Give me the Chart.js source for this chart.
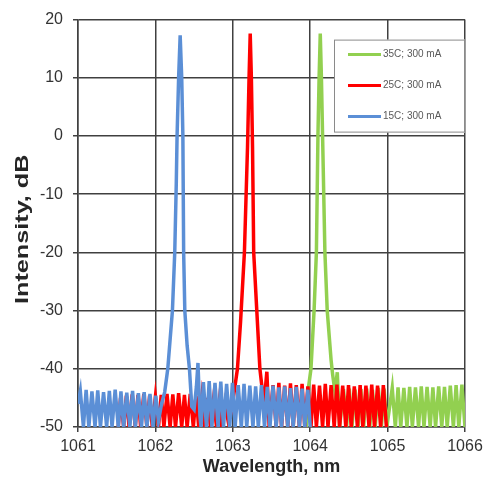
<!DOCTYPE html>
<html>
<head>
<meta charset="utf-8">
<script src="https://cdn.jsdelivr.net/npm/chart.js@4.4.1/dist/chart.umd.min.js"></script>
<style>
  html, body { margin: 0; padding: 0; background: #fff; }
</style>
</head>
<body>
<canvas id="spectrum" width="489" height="479"></canvas>
<script>
// legend text, in dataset order (15C is drawn on top)
const seriesLabels = ["15C; 300 mA", "25C; 300 mA", "35C; 300 mA"];
const xTicks = [1061, 1062, 1063, 1064, 1065, 1066];
const yTicks = [-50, -40, -30, -20, -10, 0, 10, 20];
const yTitle = "Intensity, dB";

// 15C, 300 mA
const wl15 = [
  1061.00, 1061.03, 1061.07, 1061.105, 1061.14, 1061.18, 1061.22, 1061.255, 1061.29, 1061.33,
  1061.37, 1061.405, 1061.44, 1061.48, 1061.52, 1061.555, 1061.59, 1061.63, 1061.67, 1061.705,
  1061.74, 1061.78, 1061.82, 1061.855, 1061.89, 1061.93, 1061.97, 1062.005, 1062.04, 1062.08,
  1062.12, 1062.16, 1062.19, 1062.22, 1062.25, 1062.27, 1062.28, 1062.30, 1062.32, 1062.34,
  1062.355, 1062.365, 1062.38, 1062.41, 1062.44, 1062.47, 1062.50, 1062.53, 1062.55, 1062.575,
  1062.59, 1062.62, 1062.66, 1062.695, 1062.73, 1062.77, 1062.81, 1062.845, 1062.88, 1062.92,
  1062.96, 1062.995, 1063.03, 1063.07, 1063.11, 1063.145, 1063.18, 1063.22, 1063.26, 1063.295,
  1063.33, 1063.37, 1063.41, 1063.445, 1063.48, 1063.52, 1063.56, 1063.595, 1063.63, 1063.67,
  1063.71, 1063.745, 1063.78, 1063.82, 1063.86, 1063.895, 1063.93, 1063.97, 1064.00
];
const db15 = [
  -46, -43.8, -50, -43.6, -50, -43.9, -50, -43.7, -50, -44.0,
  -50, -43.8, -50, -43.6, -50, -43.9, -50, -44.1, -50, -43.8,
  -50, -44.2, -50, -44.0, -50, -44.3, -50, -44.6, -49, -46,
  -44, -40, -35, -30, -20, -8, 0, 10, 17.3, 10,
  0, -20, -30, -36, -40, -46.5, -47, -43, -39, -48,
  -50, -42.3, -50, -42.1, -50, -42.4, -50, -42.2, -50, -42.6,
  -50, -42.4, -50, -42.8, -50, -42.6, -50, -42.9, -50, -43.0,
  -50, -42.8, -50, -43.1, -50, -42.9, -50, -43.2, -50, -43.0,
  -50, -43.3, -50, -43.1, -50, -43.4, -50, -43.6, -50
];

// 25C, 300 mA
const wl25 = [
  1061.52, 1061.55, 1061.59, 1061.625, 1061.66, 1061.70, 1061.74, 1061.775, 1061.81, 1061.85,
  1061.89, 1061.925, 1061.96, 1062.00, 1062.04, 1062.075, 1062.11, 1062.15, 1062.19, 1062.225,
  1062.26, 1062.30, 1062.34, 1062.375, 1062.41, 1062.45, 1062.49, 1062.525, 1062.56, 1062.60,
  1062.64, 1062.675, 1062.71, 1062.75, 1062.79, 1062.825, 1062.86, 1062.90, 1062.94, 1062.98,
  1063.01, 1063.06, 1063.10, 1063.15, 1063.19, 1063.21, 1063.225, 1063.24, 1063.255, 1063.27,
  1063.31, 1063.35, 1063.38, 1063.41, 1063.44, 1063.47, 1063.52, 1063.56, 1063.595, 1063.63,
  1063.67, 1063.71, 1063.745, 1063.78, 1063.82, 1063.86, 1063.895, 1063.93, 1063.97, 1064.01,
  1064.045, 1064.08, 1064.12, 1064.16, 1064.195, 1064.23, 1064.27, 1064.31, 1064.345, 1064.38,
  1064.42, 1064.46, 1064.495, 1064.53, 1064.57, 1064.61, 1064.645, 1064.68, 1064.72, 1064.76,
  1064.795, 1064.83, 1064.87, 1064.91, 1064.945, 1064.985
];
const db25 = [
  -50, -45.0, -50, -44.6, -50, -44.4, -50, -44.5, -50, -44.3,
  -50, -44.6, -50, -44.8, -50, -44.5, -50, -44.3, -50, -44.4,
  -50, -44.2, -50, -44.5, -50, -44.3, -50, -44.6, -50, -44.8,
  -50, -45.0, -50, -45.3, -50, -45.6, -50, -46.0, -49, -47.5,
  -44.7, -40, -32, -20, -2, 10, 17.6, 10, -2, -20,
  -30, -40, -43.5, -45, -40.5, -50, -42.8, -50, -42.4, -50,
  -42.9, -50, -42.5, -50, -42.8, -50, -42.6, -50, -43.0, -50,
  -42.7, -50, -42.9, -50, -42.6, -50, -42.8, -50, -42.7, -50,
  -42.9, -50, -42.8, -50, -43.0, -50, -42.8, -50, -42.9, -50,
  -42.7, -50, -42.9, -50, -42.8, -50
];

// 35C, 300 mA
const wl35 = [
  1063.95, 1063.98, 1064.01, 1064.05, 1064.08, 1064.10, 1064.115, 1064.13, 1064.145, 1064.16,
  1064.19, 1064.22, 1064.27, 1064.29, 1064.32, 1064.35, 1064.38, 1064.43, 1064.47, 1064.505,
  1064.54, 1064.58, 1064.62, 1064.655, 1064.69, 1064.73, 1064.77, 1064.805, 1064.84, 1064.88,
  1064.92, 1064.955, 1064.99, 1065.06, 1065.10, 1065.135, 1065.17, 1065.21, 1065.25, 1065.285,
  1065.32, 1065.36, 1065.40, 1065.435, 1065.47, 1065.51, 1065.55, 1065.585, 1065.62, 1065.66,
  1065.70, 1065.735, 1065.77, 1065.81, 1065.85, 1065.885, 1065.92, 1065.96, 1066.00
];
const db35 = [
  -50, -43, -40, -30, -20, 0, 10, 17.6, 10, 0,
  -20, -30, -38.5, -41, -44, -40.6, -50, -43.5, -50, -43.4,
  -50, -43.6, -50, -43.5, -50, -43.4, -50, -43.6, -50, -43.3,
  -50, -43.4, -50, -43.3, -50, -43.2, -50, -43.3, -50, -43.1,
  -50, -43.2, -50, -43.0, -50, -43.1, -50, -43.2, -50, -43.0,
  -50, -43.1, -50, -42.9, -50, -42.8, -50, -42.7, -50
];

const colors = ["#5b8fd6", "#ff0000", "#92d050"];
const fontFamily = "'Liberation Sans', Arial, sans-serif";

function toPoints(xs, ys) {
  return xs.map((x, i) => ({ x: x, y: ys[i] }));
}

// boxed legend in the top right corner of the plot
const boxLegend = {
  id: "boxLegend",
  afterDraw(chart) {
    const { ctx, chartArea } = chart;
    const right = chartArea.right;
    const left = right - 131;
    const top = chartArea.top + 20;
    const height = 93;
    ctx.save();
    ctx.fillStyle = "#fff";
    ctx.fillRect(left, top, right - left, height);
    ctx.strokeStyle = "#8a8a8a";
    ctx.lineWidth = 1;
    ctx.strokeRect(left + 0.5, top + 0.5, right - left - 1, height - 1);
    ctx.font = "10px " + fontFamily;
    ctx.textBaseline = "middle";
    ctx.fillStyle = "#595959";
    const sets = chart.data.datasets.slice().reverse();
    sets.forEach((ds, i) => {
      const y = top + 15 + i * 31;
      ctx.strokeStyle = ds.borderColor;
      ctx.lineWidth = 3;
      ctx.beginPath();
      ctx.moveTo(left + 14, y);
      ctx.lineTo(left + 47, y);
      ctx.stroke();
      ctx.fillText(ds.label, left + 49, y);
    });
    ctx.restore();
  },
};

// y axis title, stretched along its length like the original
const yAxisTitle = {
  id: "yAxisTitle",
  afterDraw(chart) {
    const { ctx, chartArea } = chart;
    ctx.save();
    ctx.translate(23, (chartArea.top + chartArea.bottom) / 2 + 6);
    ctx.rotate(-Math.PI / 2);
    ctx.scale(1.4, 1);
    ctx.font = "bold 18px " + fontFamily;
    ctx.fillStyle = "#262626";
    ctx.textAlign = "center";
    ctx.textBaseline = "middle";
    ctx.fillText(yTitle, 0, 0);
    ctx.restore();
  },
};

const ctx = document.getElementById("spectrum").getContext("2d");

new Chart(ctx, {
  type: "line",
  data: {
    datasets: [
      { label: seriesLabels[0], data: toPoints(wl15, db15), borderColor: colors[0] },
      { label: seriesLabels[1], data: toPoints(wl25, db25), borderColor: colors[1] },
      { label: seriesLabels[2], data: toPoints(wl35, db35), borderColor: colors[2] },
    ],
  },
  options: {
    responsive: false,
    animation: false,
    layout: { padding: { top: 19, right: 24, left: 0, bottom: 0 } },
    elements: {
      point: { radius: 0 },
      line: { borderWidth: 3.5, tension: 0 },
    },
    plugins: {
      legend: { display: false },
      tooltip: { enabled: false },
    },
    scales: {
      x: {
        type: "linear",
        min: xTicks[0],
        max: xTicks[xTicks.length - 1],
        afterBuildTicks: (scale) => {
          scale.ticks = xTicks.map((v) => ({ value: v }));
        },
        afterFit: (scale) => {
          scale.height = 52;
        },
        grid: { color: "#404040", lineWidth: 1.5, tickLength: 5 },
        border: { color: "#404040", width: 1.5 },
        ticks: {
          padding: 5,
          color: "#333",
          font: { family: fontFamily, size: 16 },
          callback: (v) => String(v),
        },
        title: {
          display: true,
          text: "Wavelength, nm",
          color: "#262626",
          padding: { top: 0, bottom: 1 },
          font: { family: fontFamily, size: 18, weight: "bold" },
        },
      },
      y: {
        min: yTicks[0],
        max: yTicks[yTicks.length - 1],
        afterBuildTicks: (scale) => {
          scale.ticks = yTicks.map((v) => ({ value: v }));
        },
        afterFit: (scale) => {
          scale.width = 78;
        },
        grid: { color: "#404040", lineWidth: 1.5, tickLength: 5 },
        border: { color: "#404040", width: 1.5 },
        ticks: {
          padding: 10,
          color: "#333",
          font: { family: fontFamily, size: 16 },
        },
      },
    },
  },
  plugins: [boxLegend, yAxisTitle],
});
</script>
</body>
</html>
